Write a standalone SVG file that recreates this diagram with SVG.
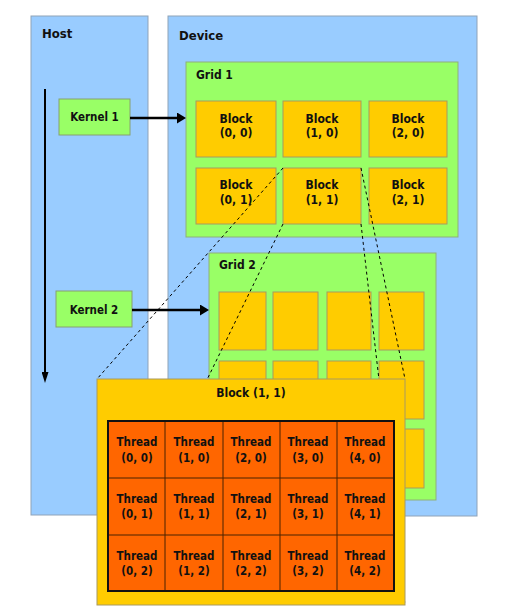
<svg xmlns="http://www.w3.org/2000/svg" width="513" height="616" viewBox="0 0 513 616">
<defs>
<marker id="ahK" markerWidth="10" markerHeight="11" refX="4" refY="5.5" orient="auto" markerUnits="userSpaceOnUse"><path d="M0,0 L9,5.5 L0,11 z" fill="#000"/></marker>
<marker id="ahH" markerWidth="12" markerHeight="7" refX="4" refY="3.5" orient="auto" markerUnits="userSpaceOnUse"><path d="M0,0 L11,3.5 L0,7 z" fill="#000"/></marker>
</defs>
<style>
text{font-family:"DejaVu Sans Condensed","DejaVu Sans",sans-serif;font-weight:bold;fill:#111;}
.panel{fill:#99CCFF;stroke:#8FA3B8;stroke-width:1;}
.grid{fill:#99FF66;stroke:#8FB07A;stroke-width:1;}
.blk{fill:#FFCC00;stroke:#A89A60;stroke-width:1;}
.kern{fill:#99FF66;stroke:#88A070;stroke-width:1;}
.thr{fill:#FF6600;}
.tl{stroke:#4A2200;stroke-width:1;}
.dash{stroke:#000;stroke-width:1;stroke-dasharray:3,3;fill:none;}
.t13{font-size:13px;}
.t12{font-size:12px;}
.t115{font-size:11.5px;}
.c{text-anchor:middle;}
</style>
<rect width="513" height="616" fill="#fff"/>
<g id="host">
<rect class="panel" x="31" y="16" width="117" height="499"/>
<text class="t13" x="42" y="38">Host</text>
</g>
<g id="device">
<rect class="panel" x="168" y="16" width="309" height="500"/>
<text class="t13" x="179" y="40">Device</text>
</g>
<g id="kernel1">
<rect class="kern" x="59" y="99" width="71" height="36"/>
<text class="t115 c" x="94.5" y="121">Kernel 1</text>
</g>
<g id="kernel2">
<rect class="kern" x="56" y="291" width="76" height="36"/>
<text class="t115 c" x="94" y="314">Kernel 2</text>
</g>
<g id="grid1">
<rect class="grid" x="186" y="62" width="272" height="175"/>
<text class="t12" x="196" y="79">Grid 1</text>
<g id="g1b00"><rect class="blk" x="196" y="101" width="80" height="56"/><text class="t12 c" x="236" y="123">Block</text><text class="t12 c" x="236" y="137">(0, 0)</text></g>
<g id="g1b10"><rect class="blk" x="283" y="101" width="78" height="56"/><text class="t12 c" x="322" y="123">Block</text><text class="t12 c" x="322" y="137">(1, 0)</text></g>
<g id="g1b20"><rect class="blk" x="369" y="101" width="78" height="56"/><text class="t12 c" x="408" y="123">Block</text><text class="t12 c" x="408" y="137">(2, 0)</text></g>
<g id="g1b01"><rect class="blk" x="196" y="168" width="80" height="56"/><text class="t12 c" x="236" y="189">Block</text><text class="t12 c" x="236" y="204">(0, 1)</text></g>
<g id="g1b11"><rect class="blk" x="283" y="168" width="78" height="56"/><text class="t12 c" x="322" y="189">Block</text><text class="t12 c" x="322" y="204">(1, 1)</text></g>
<g id="g1b21"><rect class="blk" x="369" y="168" width="78" height="56"/><text class="t12 c" x="408" y="189">Block</text><text class="t12 c" x="408" y="204">(2, 1)</text></g>
</g>
<g id="grid2">
<rect class="grid" x="209" y="253" width="227" height="247"/>
<text class="t12" x="219" y="269">Grid 2</text>
<rect class="blk" x="219" y="292" width="47" height="58"/>
<rect class="blk" x="273" y="292" width="45" height="58"/>
<rect class="blk" x="327" y="292" width="44" height="58"/>
<rect class="blk" x="379" y="292" width="45" height="58"/>
<rect class="blk" x="219" y="361" width="47" height="58"/>
<rect class="blk" x="273" y="361" width="45" height="58"/>
<rect class="blk" x="327" y="361" width="44" height="58"/>
<rect class="blk" x="379" y="361" width="45" height="58"/>
<rect class="blk" x="219" y="429" width="47" height="59"/>
<rect class="blk" x="273" y="429" width="45" height="59"/>
<rect class="blk" x="327" y="429" width="44" height="59"/>
<rect class="blk" x="379" y="429" width="45" height="59"/>
</g>
<g id="connectors">
<line x1="45" y1="89" x2="45" y2="376" stroke="#000" stroke-width="2" marker-end="url(#ahH)"/>
<line x1="130" y1="118" x2="181" y2="118" stroke="#000" stroke-width="2.5" marker-end="url(#ahK)"/>
<line x1="132" y1="310" x2="204" y2="310" stroke="#000" stroke-width="2.5" marker-end="url(#ahK)"/>
<line class="dash" x1="283" y1="168" x2="97" y2="379"/>
<line class="dash" x1="283" y1="224" x2="97" y2="605"/>
<line class="dash" x1="361" y1="168" x2="405" y2="379"/>
<line class="dash" x1="361" y1="224" x2="405" y2="605"/>
</g>
<g id="block11">
<rect x="97" y="379" width="308" height="226" fill="#FFCC00" stroke="#A89A60" stroke-width="1"/>
<text class="t12 c" x="251" y="397">Block (1, 1)</text>
<rect class="thr" x="108" y="421" width="286" height="170"/>
<g class="tl">
<line x1="165" y1="421" x2="165" y2="591"/>
<line x1="223" y1="421" x2="223" y2="591"/>
<line x1="280" y1="421" x2="280" y2="591"/>
<line x1="337" y1="421" x2="337" y2="591"/>
<line x1="108" y1="478" x2="394" y2="478"/>
<line x1="108" y1="535" x2="394" y2="535"/>
</g>
<rect x="108" y="421" width="286" height="170" fill="none" stroke="#111" stroke-width="2"/>
<g class="t115 c">
<text class="t115 c" x="137" y="446">Thread</text><text class="t115 c" x="137" y="462">(0, 0)</text>
<text class="t115 c" x="194" y="446">Thread</text><text class="t115 c" x="194" y="462">(1, 0)</text>
<text class="t115 c" x="251" y="446">Thread</text><text class="t115 c" x="251" y="462">(2, 0)</text>
<text class="t115 c" x="308" y="446">Thread</text><text class="t115 c" x="308" y="462">(3, 0)</text>
<text class="t115 c" x="365" y="446">Thread</text><text class="t115 c" x="365" y="462">(4, 0)</text>
<text class="t115 c" x="137" y="503">Thread</text><text class="t115 c" x="137" y="518">(0, 1)</text>
<text class="t115 c" x="194" y="503">Thread</text><text class="t115 c" x="194" y="518">(1, 1)</text>
<text class="t115 c" x="251" y="503">Thread</text><text class="t115 c" x="251" y="518">(2, 1)</text>
<text class="t115 c" x="308" y="503">Thread</text><text class="t115 c" x="308" y="518">(3, 1)</text>
<text class="t115 c" x="365" y="503">Thread</text><text class="t115 c" x="365" y="518">(4, 1)</text>
<text class="t115 c" x="137" y="560">Thread</text><text class="t115 c" x="137" y="575">(0, 2)</text>
<text class="t115 c" x="194" y="560">Thread</text><text class="t115 c" x="194" y="575">(1, 2)</text>
<text class="t115 c" x="251" y="560">Thread</text><text class="t115 c" x="251" y="575">(2, 2)</text>
<text class="t115 c" x="308" y="560">Thread</text><text class="t115 c" x="308" y="575">(3, 2)</text>
<text class="t115 c" x="365" y="560">Thread</text><text class="t115 c" x="365" y="575">(4, 2)</text>
</g>
</g>
</svg>
